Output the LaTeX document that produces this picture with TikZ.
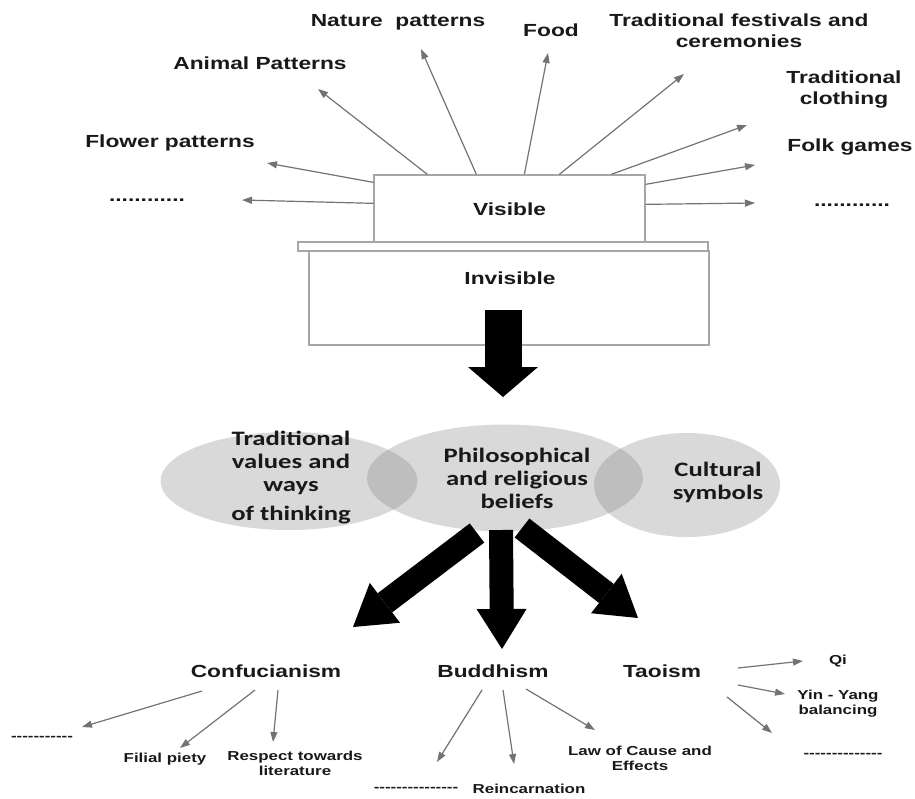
\documentclass[tikz,border=0pt]{standalone}
\usepackage{fontspec}
\setmainfont{Liberation Sans}[FakeStretch=1.3]
\newfontfamily\ovalfont{Carlito}[FakeStretch=1.3]
\usetikzlibrary{arrows.meta,shapes.geometric}

\newcommand{\dotrow}[1]{\foreach \k in {1,...,#1}{.}}
\newcommand{\dashrow}[1]{\foreach \k in {1,...,#1}{-}}

\tikzset{
  lbl/.style={font=\fontsize{17.5}{21}\selectfont\bfseries, align=center, inner sep=0pt, text=black!90},
  small/.style={font=\fontsize{13}{15}\selectfont\bfseries, align=center, inner sep=0pt, text=black!90},
  ray/.style={draw=black!55, line width=1.2pt, -{Triangle[length=10pt,width=7pt]}},
  bigarrow/.style={line width=24pt, -{Triangle[length=40pt,width=50pt,line width=0pt]}},
  box/.style={draw=black!35, line width=1.3pt, fill=white, inner sep=0pt},
  oval/.style={ellipse, fill=gray, fill opacity=0.3, inner sep=0pt},
  ovaltext/.style={font=\ovalfont\fontsize{20.5}{23}\selectfont\bfseries, align=center, inner sep=0pt, text=black!90},
}

\begin{document}
\begin{tikzpicture}[x=1pt, y=-1pt]
  \useasboundingbox (0,0) rectangle (915,798);

  % Labels above the box
  \node[lbl] (nature) at (398,22) {Nature\ \ patterns};
  \node[lbl] (food) at (551,30) {Food};
  \node[lbl] (fest) at (739,31) {Traditional festivals and\\ceremonies};
  \node[lbl] (cloth) at (844,90) {Traditional\\clothing};
  \node[lbl] (folk) at (850,147) {Folk games};
  \node[lbl] (moreR) at (852,205) {\dotrow{12}};
  \node[lbl] (animal) at (260,63) {Animal Patterns};
  \node[lbl] (flower) at (170,143) {Flower patterns};
  \node[lbl] (moreL) at (147,200) {\dotrow{12}};

  % Visible / invisible box
  \node[lbl, box, minimum width=271pt, minimum height=68pt] (vis) at (509.5,209) {Visible};
  \node[box, minimum width=410pt, minimum height=9pt] (lid) at (503,246.5) {};
  \node[box, minimum width=400pt, minimum height=94pt] (inv) at (509,298) {};
  \node[lbl] (invT) at (510,278) {Invisible};

  % Rays from the visible part
  \foreach \nm/\dx/\dy/\tx/\ty in {animal/54/0/318/89, nature/103/0/421/49,
      food/151/0/548/53, fest/186/0/684/74, cloth/238/0/747/125,
      flower/0/8/267/163, moreL/0/29/242/200} {
    \coordinate (\nm-tip) at (\tx,\ty);
    \draw[ray] ([shift={(\dx,\dy)}]vis.north west) -- (\nm-tip);
  }
  \foreach \nm/\dy/\tx/\ty in {folk/10/755/165, moreR/30/755/203} {
    \coordinate (\nm-tip) at (\tx,\ty);
    \draw[ray] ([shift={(0,\dy)}]vis.north east) -- (\nm-tip);
  }

  % Down to the ovals
  \coordinate (downS) at (503,310);
  \coordinate (downE) at (503,397);
  \draw[line width=37pt, -{Triangle[length=30pt,width=70pt,line width=0pt]}] (downS) -- (downE);

  % Ovals
  \node[oval, minimum width=257pt, minimum height=98pt] (valE) at (289,481) {};
  \node[oval, minimum width=276pt, minimum height=107pt] (philE) at (505,478) {};
  \node[oval, minimum width=186pt, minimum height=104pt] (cultE) at (687,485) {};
  \node[ovaltext] (valT) at (291,478) {Traditional\\values and\\ways\\[6pt]of thinking};
  \node[ovaltext] (philT) at (517,478) {Philosophical\\and religious\\beliefs};
  \node[ovaltext] (cultT) at (718,482) {Cultural\\symbols};

  % Three schools
  \node[lbl] (conf) at (266,671) {Confucianism};
  \node[lbl] (budd) at (493,671) {Buddhism};
  \node[lbl] (tao) at (662,671) {Taoism};

  \coordinate (confS) at (477,533);
  \coordinate (buddS) at (501,530);
  \coordinate (taoS) at (522,528);
  \coordinate (confE) at (353,627);
  \coordinate (buddE) at (502,649);
  \coordinate (taoE) at (638,618);
  \draw[bigarrow] (confS) -- (confE);
  \draw[bigarrow] (buddS) -- (buddE);
  \draw[bigarrow] (taoS) -- (taoE);

  % Leaves
  \node[small] (dashC) at (42,738) {\dashrow{11}};
  \node[small] (filial) at (165,759) {Filial piety};
  \node[small] (respect) at (295,763) {Respect towards\\literature};
  \node[small] (dashB) at (416,789) {\dashrow{15}};
  \node[small] (reinc) at (529,789) {Reincarnation};
  \node[small] (law) at (640,758) {Law of Cause and\\Effects};
  \node[small] (qi) at (838,661) {Qi};
  \node[small] (yin) at (838,704) {Yin - Yang\\balancing};
  \node[small] (dashT) at (843,755) {\dashrow{14}};

  \foreach \src/\nm/\dx/\dy/\tx/\ty in {conf/c1/-64/20/82/727, conf/c2/-11/19/180/748,
      conf/c3/12/19/273/742, budd/b1/-11/19/437/762, budd/b2/10/19/514/764,
      budd/b3/33/18/595/730, tao/t1/76/-3/803/661, tao/t2/76/14/785/694,
      tao/t3/65/26/772/733} {
    \coordinate (\nm-tip) at (\tx,\ty);
    \draw[ray] ([shift={(\dx,\dy)}]\src.center) -- (\nm-tip);
  }
\end{tikzpicture}
\end{document}
